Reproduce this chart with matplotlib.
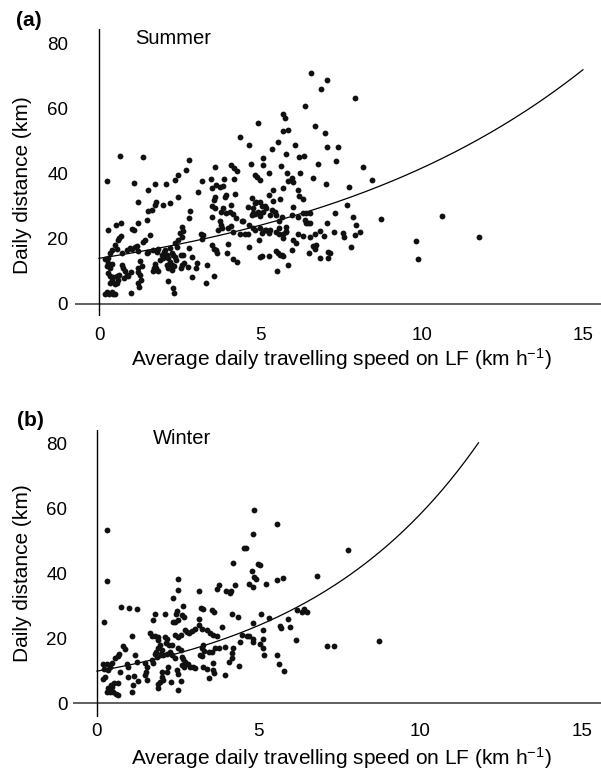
import numpy as np
import matplotlib
matplotlib.use("Agg")
import matplotlib.pyplot as plt

plt.rcParams['font.family'] = ['Liberation Sans', 'DejaVu Sans']
plt.rcParams['mathtext.fontset'] = 'custom'
plt.rcParams['mathtext.rm'] = 'Liberation Sans'
plt.rcParams['mathtext.it'] = 'Liberation Sans:italic'

# summer: (speed km/h, daily distance km)
summer = [
    (0.65,45.5),(1.35,45.0),(0.24,37.8),(1.09,37.0),(1.53,35.0),(1.73,36.7),(2.09,36.7),(2.35,38.0),(2.46,39.6),(2.71,41.1),(2.79,44.0),
    (1.2,31.4),(1.53,28.6),(1.65,28.8),(1.73,30.4),(1.78,31.4),(1.99,30.2),(2.2,30.9),(2.46,32.7),(2.82,28.6),(2.8,26.3),
    (3.08,34.2),(3.18,37.8),(3.47,38.2),(3.61,42.1),(4.1,42.5),(4.19,41.7),(4.29,40.8),(3.88,38.2),(3.49,35.5),(3.64,36.5),(3.75,36.0),(3.83,36.2),(4.19,38.2),
    (4.21,33.7),(3.95,33.5),(3.9,32.7),(3.6,32.7),(3.55,31.9),(3.49,29.9),(3.6,29.3),(4.09,30.4),(3.85,29.3),(3.78,28.3),(3.95,27.8),(4.06,28.3),(4.16,27.6),
    (4.26,26.3),(4.42,25.3),(4.1,23.9),(4.0,23.2),(3.8,23.2),(3.7,22.7),(3.49,26.6),(3.75,25.3),(3.78,24.2),(4.16,22.2),
    (4.0,18.4),(3.98,15.5),(4.15,13.9),(4.28,12.9),(3.55,16.8),(3.65,15.7),(3.49,18.1),(3.64,16.6),(3.35,12.0),(3.57,8.6),(3.33,6.5),(3.05,12.5),(2.79,17.1),(2.87,14.3),
    (3.16,21.4),(3.21,21.2),(3.18,19.8),(2.58,23.5),(2.61,22.5),(2.5,21.9),(2.58,20.4),(2.46,19.6),(2.35,18.6),(2.43,17.5),(2.2,17.1),(2.06,16.6),(2.0,16.0),
    (1.94,15.0),(1.84,16.8),(1.79,16.0),(1.68,16.6),(1.53,16.0),(1.48,15.5),(1.89,13.6),(1.99,14.1),(2.1,15.0),(2.15,14.0),(2.25,15.5),(2.3,15.0),(2.35,14.5),
    (2.4,13.5),(2.54,15.0),(2.61,15.0),(2.64,12.5),(2.56,12.0),(2.54,11.0),(2.2,12.9),(2.25,11.9),(2.1,11.9),(2.13,10.9),(1.73,12.3),(1.78,11.0),(1.84,10.0),
    (1.7,11.0),(1.68,10.0),(2.33,11.6),(2.25,10.4),(2.15,6.9),(2.3,4.8),(2.33,3.5),(2.87,8.4),(1.27,13.2),(1.32,11.7),(1.22,9.9),(1.27,8.9),(1.3,7.3),(1.22,6.3),
    (1.24,5.3),(1.0,3.3),(1.2,16.3),(1.11,17.6),(1.17,17.8),(1.37,19.1),(1.42,19.6),(1.58,21.2),(1.48,25.8),(1.22,24.7),(1.01,23.1),(1.08,22.7),(1.03,17.0),
    (0.96,17.3),(0.86,16.6),(0.7,15.5),(0.55,17.0),(0.5,18.0),(0.58,19.6),(0.63,20.1),(0.68,20.7),(0.52,24.2),(0.68,24.7),(0.29,22.7),(0.39,16.6),(0.34,15.7),
    (0.27,14.0),(0.19,13.7),(0.29,12.7),(0.24,11.7),(0.39,12.3),(0.34,11.0),(0.7,11.9),(0.75,10.9),(0.8,10.2),(0.86,8.9),(0.78,7.9),(0.91,8.6),(0.62,9.0),
    (0.6,7.4),(0.55,6.4),(0.29,9.4),(0.34,8.6),(0.44,8.2),(0.55,8.6),(0.39,7.4),(0.34,6.4),(0.5,6.2),(0.24,3.8),(0.31,3.2),(0.39,3.8),(0.5,3.2),(0.19,3.2),
    (0.44,3.0),(1.22,10.9),(0.99,9.9),(2.77,11.2),(3.02,10.9),
    (6.58,70.8),(7.08,68.7),(6.87,65.8),(7.93,63.1),(6.38,60.8),(5.71,58.3),(5.77,57.0),(4.93,55.6),(5.69,52.9),(5.86,53.2),(6.71,54.7),(7.01,52.4),(4.37,51.1),
    (4.65,48.8),(5.55,49.8),(5.35,47.4),(6.07,48.8),(7.07,48.1),(7.42,48.1),(5.81,46.0),(6.2,45.2),(6.35,45.4),(5.09,44.7),(5.09,42.6),(4.7,42.9),(5.65,42.3),
    (6.8,42.9),(7.36,43.7),(8.18,41.9),(4.83,39.6),(4.9,38.9),(5.0,38.0),(5.26,40.1),(5.84,40.3),(6.22,40.1),(5.99,38.5),(5.86,37.8),(6.02,37.5),(5.71,35.5),
    (5.4,35.0),(5.27,33.4),(6.62,38.5),(7.05,36.8),(8.47,38.0),(7.74,35.8),(6.17,34.9),(6.2,33.1),(6.33,32.1),
    (4.75,32.4),(4.83,30.9),(4.88,31.4),(4.62,29.6),(4.78,29.4),(4.98,31.4),(5.04,29.9),(5.14,29.9),(5.19,29.4),(5.09,28.3),(4.93,28.3),(5.0,27.0),(4.83,27.6),
    (4.73,27.3),(4.78,27.8),(5.4,31.7),(5.35,28.9),(5.6,32.1),(5.45,28.3),(5.5,27.3),(5.29,27.3),(5.66,26.6),(6.0,29.7),(5.97,27.3),(6.33,28.0),(6.43,28.0),
    (6.53,28.0),(6.17,26.8),(6.38,25.8),(6.48,24.8),(6.41,24.8),(6.53,24.8),
    (7.31,28.0),(7.69,30.3),(7.87,26.8),(8.73,26.2),(7.08,24.9),(7.98,24.2),(8.1,22.2),(7.95,21.0),(7.56,21.7),(7.58,20.4),(7.28,22.2),(6.84,22.5),(6.97,20.7),
    (6.69,21.5),(6.55,20.4),(6.74,18.1),(6.62,17.8),(6.51,15.7),(6.69,16.8),(6.84,14.2),(7.1,16.0),(7.15,15.5),(7.1,14.0),(7.8,17.6),
    (6.17,21.5),(6.31,20.9),(6.02,19.6),(6.12,18.8),(5.99,16.4),(5.71,20.1),(5.81,22.1),(5.58,21.6),(5.69,21.6),(5.48,22.1),(5.27,21.8),(5.29,22.6),(5.5,16.3),
    (5.55,15.6),(5.66,15.0),(5.71,14.7),(5.6,15.0),(5.86,12.0),(5.52,10.2),(5.27,14.8),(5.04,14.8),(4.98,14.5),(4.96,19.6),(4.98,23.2),(5.04,21.8),(5.14,22.6),
    (5.19,22.8),(4.83,22.6),(4.62,21.6),(4.52,21.5),(4.37,21.6),(4.47,25.3),(4.65,24.2),(4.78,23.2),(5.58,25.5),(5.58,23.4),(5.79,23.7),(5.81,22.5),(4.65,17.4),
    (9.84,19.4),(9.89,13.9),(10.62,27.1),(11.78,20.6),
]

winter = [
    (0.32,53.1),(0.3,37.4),(0.23,24.9),(0.73,29.5),(0.99,29.3),(1.25,29.0),(1.07,20.6),(2.36,32.3),(2.52,38.2),(2.5,34.7),(3.16,34.4),(3.7,35.0),(3.78,36.4),
    (3.99,34.6),(4.12,33.7),(4.15,34.5),(4.27,36.2),(4.22,43.1),(4.56,47.8),
    (1.8,27.5),(1.74,25.5),(2.1,27.5),(2.45,27.5),(2.49,28.3),(2.67,30.0),(2.64,27.0),(2.7,26.5),(2.42,25.0),(2.52,25.5),(3.22,29.3),(3.29,29.0),(3.57,28.7),
    (3.62,28.0),(4.17,27.3),(4.36,26.5),(3.14,25.8),(2.36,25.0),
    (1.64,21.4),(1.71,20.6),(1.8,20.6),(1.88,20.4),(1.9,19.4),(1.95,17.8),(1.9,16.8),(2.0,16.3),(2.1,20.4),(2.16,19.6),(2.14,18.4),(2.23,17.8),(2.33,18.0),
    (2.42,20.9),(2.52,20.2),(2.6,20.9),(2.72,22.4),(2.78,21.9),(2.85,21.4),(2.93,22.1),(3.04,22.9),(3.14,23.9),(3.24,22.9),(3.4,22.4),(3.5,21.4),(3.6,20.9),
    (3.7,20.6),(3.86,23.4),(3.29,17.8),(3.24,16.8),(3.32,16.0),(3.19,14.9),(3.24,14.6),(3.45,15.7),(3.55,15.7),(3.66,16.8),(3.78,16.8),(3.96,17.1),(4.22,16.8),
    (4.17,15.3),(4.19,14.0),(4.07,12.7),(4.38,11.3),(4.43,18.8),(4.48,20.9),
    (1.82,15.7),(1.85,14.2),(1.78,15.2),(1.98,15.2),(2.05,14.7),(2.16,15.2),(2.26,15.7),(2.33,14.7),(2.42,14.0),(2.52,16.8),(2.6,16.3),(2.64,14.2),(2.67,13.4),
    (2.72,12.7),(2.83,11.9),(2.88,11.1),(2.96,11.1),(3.04,10.9),(2.62,11.7),(2.7,11.1),(2.47,10.1),(2.52,8.9),(2.21,11.1),(2.16,9.6),(2.0,9.6),(2.0,8.0),
    (1.9,6.0),(1.95,6.5),(2.05,7.0),(1.88,4.5),(2.29,6.5),(2.6,6.7),(2.5,4.0),(3.29,11.1),(3.4,10.6),(3.6,12.4),(3.6,10.1),(3.63,9.1),(3.45,7.6),(3.96,8.6),
    (1.69,13.2),(1.74,12.2),(1.49,12.2),(1.54,11.2),(1.51,9.6),(1.49,8.6),(1.54,7.1),(1.18,14.7),(1.23,12.7),(0.92,12.0),(0.97,11.0),(0.95,8.0),(1.16,8.2),
    (1.1,5.5),(1.07,3.4),(1.28,6.9),(0.68,15.2),(0.64,14.5),(0.82,17.5),(0.87,16.5),(0.56,13.7),(0.47,12.2),(0.3,12.1),(0.2,11.9),(0.23,10.6),(0.33,10.1),
    (0.4,11.1),(0.25,7.9),(0.2,7.4),(0.71,9.5),(0.43,5.5),(0.54,6.2),(0.64,6.2),(0.35,4.5),(0.45,5.0),(0.3,3.5),(0.4,3.3),(0.5,3.3),(0.58,2.9),(0.66,2.5),
    (4.86,59.4),(5.58,55.1),(4.84,52.0),(4.61,47.8),(4.99,42.8),(5.05,42.5),(4.79,40.6),(4.86,38.9),(4.92,38.2),(4.69,36.5),(4.84,35.7),(5.22,36.7),(5.58,37.8),
    (5.75,38.6),(6.8,39.1),(7.75,47.1),(5.08,27.3),(5.33,26.2),(4.84,24.6),(4.63,20.6),(4.69,20.6),(4.84,19.8),(4.84,18.8),(5.15,22.4),(5.15,19.6),(5.03,18.1),
    (5.13,16.8),(5.17,14.9),(5.92,25.8),(5.67,23.6),(5.69,23.1),(5.97,23.4),(6.18,28.5),(6.34,28.0),(6.41,29.0),(6.49,28.0),(6.16,19.3),(5.56,14.7),(5.64,11.9),
    (5.8,9.8),(7.13,17.5),(7.32,17.5),(8.71,19.2),
]

# fitted exponential curves: y = a * exp(b * x)
summer_fit = (14.0, 0.109, 15.0)   # a, b, x max
winter_fit = (9.8, 0.178, 11.8)

W, H = 601, 774
fig = plt.figure(figsize=(W / 100, H / 100), dpi=100)


def panel(rect_px, xlim, ylim, pts, fit, season, letter, letter_xy, season_xy, xpad, ypad, ylab_xy, xlab_xy):
    l, t, r, b = rect_px
    ax = fig.add_axes([l / W, 1 - b / H, (r - l) / W, (b - t) / H])
    ax.set_xlim(*xlim)
    ax.set_ylim(*ylim)
    for s in ax.spines.values():
        s.set_visible(False)
    ax.axhline(0, color='#444444', lw=1.2, zorder=1)
    ax.axvline(0, color='black', lw=1.0, zorder=1)
    ax.set_xticks([0, 5, 10, 15])
    ax.set_yticks([0, 20, 40, 60, 80])
    ax.tick_params(axis='x', length=0, pad=xpad, labelsize=13.5)
    ax.tick_params(axis='y', length=0, pad=ypad, labelsize=13.5)
    xs = [p[0] for p in pts]
    ys = [p[1] for p in pts]
    ax.plot(xs, ys, 'o', color='#111111', ms=4.2, mew=0, zorder=3)
    a, k, xmax = fit
    xf = np.linspace(0, xmax, 200)
    ax.plot(xf, a * np.exp(k * xf), color='black', lw=0.9, zorder=2)
    fig.text(letter_xy[0] / W, 1 - letter_xy[1] / H, letter, fontsize=15, fontweight='bold',
             ha='left', va='center')
    fig.text(season_xy[0] / W, 1 - season_xy[1] / H, season, fontsize=14.5, ha='left', va='center')
    fig.text(ylab_xy[0] / W, 1 - ylab_xy[1] / H, 'Daily distance (km)', fontsize=15,
             rotation=90, ha='center', va='center')
    fig.text(xlab_xy[0] / W, 1 - xlab_xy[1] / H,
             'Average daily travelling speed on LF (km h$^{\u22121}$)', fontsize=15,
             ha='center', va='center')
    return ax


panel((75, 29, 601, 316), (-0.744, 15.56), (-3.68, 84.3), summer, summer_fit,
      'Summer', '(a)', (16, 20), (135, 38), 8, 5, (23, 185), (341, 359))
panel((73, 430, 601, 717), (-0.742, 15.59), (-4.3, 84.0), winter, winter_fit,
      'Winter', '(b)', (17, 421), (153, 438), 4, 4, (23, 573), (341, 758))

fig.savefig('out.png', dpi=100)
